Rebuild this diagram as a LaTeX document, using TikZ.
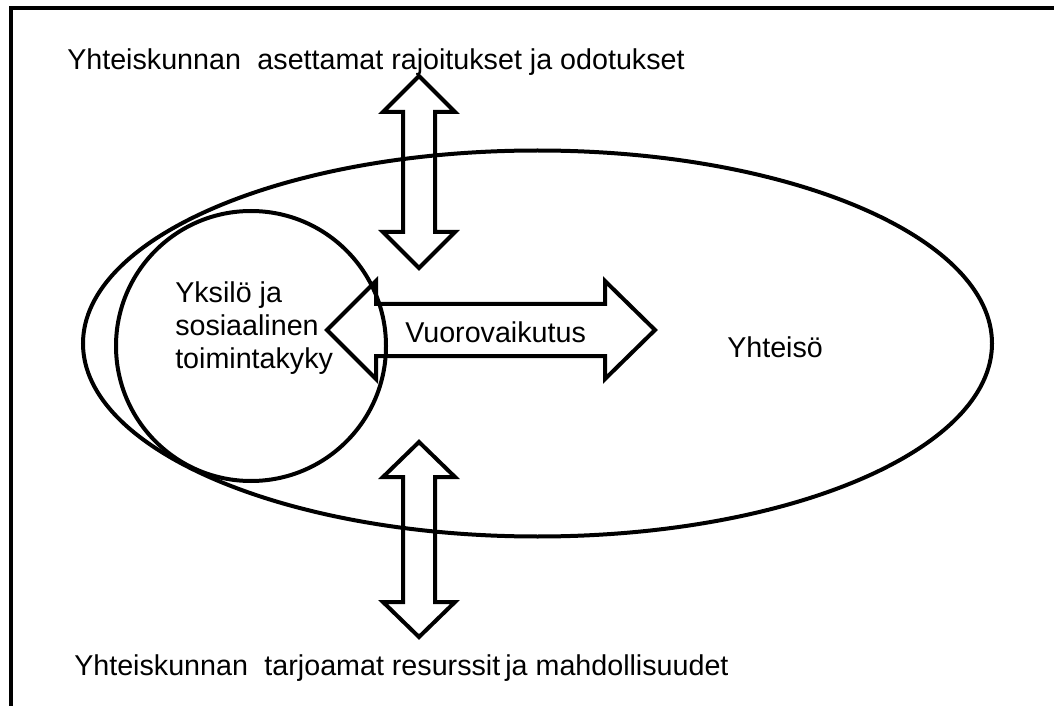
\documentclass[tikz,border=0pt]{standalone}
\usepackage{fontspec}
\setmainfont{Liberation Sans}
\begin{document}
\begin{tikzpicture}[x=0.75pt,y=-0.75pt,
  outline/.style={line width=3pt,line join=miter},
  lbl/.style={font=\fontsize{21.5}{25}\selectfont,inner sep=0pt,anchor=base west},
  frameline/.style={line width=3pt}]
\useasboundingbox (0,0) rectangle (1054,706);
% frame (left and top)
\coordinate (fa) at (10.5,706);
\coordinate (fb) at (10.5,8);
\coordinate (fc) at (1054,8);
\draw[frameline] (fa) -- (fb) -- (fc);
% community ellipse
\draw[outline] (537.5,343.5) ellipse [x radius=454.5, y radius=193];
% individual circle
\draw[outline] (251,346) circle [radius=135];
% horizontal double arrow
\draw[outline] (327,330) -- (376,281) -- (376,304) -- (605,304) -- (605,281)
  -- (655,330) -- (605,379) -- (605,356) -- (376,356) -- (376,379) -- cycle;
% upper vertical double arrow
\draw[outline] (419,76) -- (455,112) -- (435,112) -- (435,232) -- (455,232)
  -- (419,268) -- (383,232) -- (403,232) -- (403,112) -- (383,112) -- cycle;
% lower vertical double arrow
\draw[outline] (419,442) -- (455,477) -- (435,477) -- (435,602) -- (455,602)
  -- (419,637) -- (383,602) -- (403,602) -- (403,477) -- (383,477) -- cycle;
% labels
\node[lbl] (top) at (67,70) {Yhteiskunnan\hspace{0.3em} asettamat rajoitukset ja odotukset};
\node[lbl] (bot) at (74,675) {Yhteiskunnan\hspace{0.3em} tarjoamat resurssit\hspace{-0.1em} ja mahdollisuudet};
\node[lbl,align=left,anchor=north west,font=\fontsize{21.5}{24.75}\selectfont] (ind) at (175,281) {Yksilö ja\\sosiaalinen\\toimintakyky};
\node[lbl] (vv) at (405,342) {Vuorovaikutus};
\node[lbl] (yh) at (727,358) {Yhteisö};
\end{tikzpicture}
\end{document}
